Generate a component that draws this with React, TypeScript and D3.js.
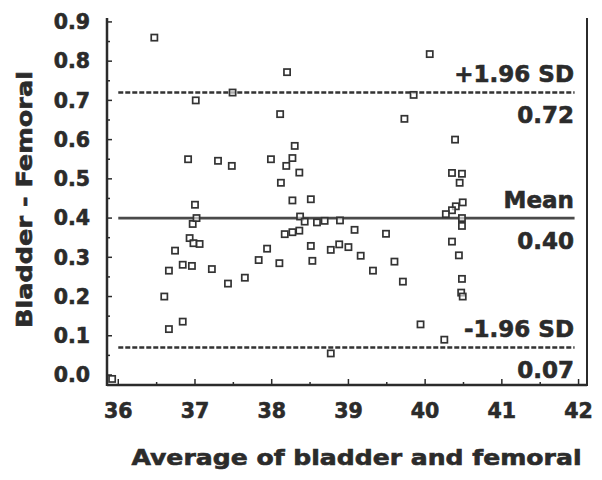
import React from "react";
import * as d3 from "d3";

// Bland-Altman data: average (x) and difference (y)
const averages: number[] = [
  36.47, 35.92, 36.60, 36.66, 36.84, 36.66, 36.74, 36.84, 36.96, 36.93,
  36.98, 37.06, 36.97, 37.02, 37.00, 36.91, 37.01, 37.22, 37.30, 37.48,
  37.49, 37.43, 37.65, 37.83, 37.94, 37.99, 38.10, 38.11, 38.20, 38.30,
  38.27, 38.19, 38.36, 38.12, 38.27, 38.51, 38.37, 38.43, 38.59, 38.69,
  38.89, 38.36, 38.27, 38.17, 38.51, 38.53, 38.77, 38.88, 39.00, 39.08,
  39.16, 39.32, 39.49, 39.60, 39.71, 39.73, 39.85, 40.06, 39.94, 38.77,
  40.25, 40.39, 40.35, 40.48, 40.45, 40.49, 40.40, 40.35, 40.27, 40.48,
  40.48, 40.35, 40.44, 40.48, 40.47, 40.49,
];
const differences: number[] = [
  0.86, -0.01, 0.20, 0.117, 0.136, 0.266, 0.317, 0.281, 0.278, 0.349,
  0.336, 0.334, 0.385, 0.40, 0.434, 0.55, 0.70, 0.27, 0.546, 0.533,
  0.72, 0.233, 0.248, 0.293, 0.322, 0.55, 0.285, 0.665, 0.772, 0.584,
  0.553, 0.533, 0.516, 0.49, 0.445, 0.448, 0.404, 0.391, 0.389, 0.393,
  0.394, 0.368, 0.364, 0.359, 0.329, 0.291, 0.319, 0.333, 0.326, 0.37,
  0.304, 0.266, 0.36, 0.289, 0.238, 0.653, 0.714, 0.818, 0.129, 0.055,
  0.09, 0.60, 0.515, 0.513, 0.49, 0.44, 0.43, 0.42, 0.41, 0.40,
  0.38, 0.34, 0.305, 0.245, 0.21, 0.20,
];

const xTickValues: number[] = [36, 37, 38, 39, 40, 41, 42];
const xMinorTicks: number[] = [36.5, 37.5, 38.5, 39.5, 40.5, 41.5];
const yTickValues: number[] = [0, 0.1, 0.2, 0.3, 0.4, 0.5, 0.6, 0.7, 0.8, 0.9];
const yMinorTicks: number[] = [0.05, 0.15, 0.25, 0.35, 0.45, 0.55, 0.65, 0.75, 0.85];

const meanDiff = 0.40;
const upperLoA = 0.72;
const lowerLoA = 0.07;
const upperLabel = "+1.96 SD";
const meanLabel = "Mean";
const lowerLabel = "-1.96 SD";

const xTitle = "Average of bladder and femoral";
const yTitle = "Bladder - Femoral";

export default function App() {
  const W = 602, H = 480;
  const left = 107, right = 587, top = 18, bottom = 385;
  const x = d3.scaleLinear().domain([35.853, 42.11]).range([left, right]);
  const y = d3.scaleLinear().domain([-0.0255, 0.91]).range([bottom, top]);
  const font = "'DejaVu Sans', Verdana, sans-serif";
  const ink = "#2b2b2b";
  const lineX0 = x(36), lineX1 = x(42) - 4;
  const labelX = 574;
  const pts = averages.map((a, i) => [a, differences[i]] as [number, number]);
  const heavy = { stroke: ink, strokeWidth: 0.6 } as const;

  return (
    <svg width={W} height={H} style={{ position: "absolute", left: 0, top: 0, background: "#fff" }}
      fontFamily={font} fontWeight="bold">
      <rect x={0} y={0} width={W} height={H} fill="#fff" />
      {/* reference lines */}
      <line x1={lineX0} x2={lineX1} y1={y(upperLoA)} y2={y(upperLoA)} stroke="#333" strokeWidth={2.5} strokeDasharray="5,2" />
      <line x1={lineX0} x2={lineX1} y1={y(lowerLoA)} y2={y(lowerLoA)} stroke="#333" strokeWidth={2.5} strokeDasharray="5,2" />
      <line x1={lineX0} x2={lineX1} y1={y(meanDiff)} y2={y(meanDiff)} stroke="#4a4a4a" strokeWidth={2.8} />

      {/* points */}
      {pts.map(([a, d], i) => (
        <rect key={i} x={x(a) - 3.1} y={y(d) - 3.1} width={6.2} height={6.2}
          fill="#fff" fillOpacity={0.6} stroke="#333" strokeWidth={1.7} />
      ))}

      {/* axes */}
      <line x1={left} x2={left} y1={top} y2={bottom + 1} stroke={ink} strokeWidth={2.5} />
      <line x1={left} x2={right} y1={bottom} y2={bottom} stroke={ink} strokeWidth={2.5} />
      <line x1={right} x2={right} y1={top} y2={bottom + 1} stroke={ink} strokeWidth={2} />

      {xTickValues.map((t) => (
        <g key={"xt" + t}>
          <line x1={x(t)} x2={x(t)} y1={bottom} y2={bottom - 6} stroke={ink} strokeWidth={1.5} />
          <text x={x(t)} y={418} textAnchor="middle" fontSize={20.5} fill={ink} {...heavy}>{t}</text>
        </g>
      ))}
      {xMinorTicks.map((t) => (
        <line key={"xm" + t} x1={x(t)} x2={x(t)} y1={bottom} y2={bottom - 3} stroke={ink} strokeWidth={1.5} />
      ))}
      {yTickValues.map((t) => (
        <g key={"yt" + t}>
          <line x1={left} x2={left + 5} y1={y(t)} y2={y(t)} stroke={ink} strokeWidth={1.5} />
          <text x={90} y={y(t) + 7.3} textAnchor="end" fontSize={20.5} fill={ink} {...heavy}>{d3.format(".1f")(t)}</text>
        </g>
      ))}
      {yMinorTicks.map((t) => (
        <line key={"ym" + t} x1={left} x2={left + 3} y1={y(t)} y2={y(t)} stroke={ink} strokeWidth={1.5} />
      ))}

      {/* line labels */}
      <g fontSize={23} fill={ink} textAnchor="end" {...heavy}>
        <text x={labelX} y={y(upperLoA) - 11}>{upperLabel}</text>
        <text x={labelX} y={y(upperLoA) + 30}>{upperLoA.toFixed(2)}</text>
        <text x={labelX} y={y(meanDiff) - 10}>{meanLabel}</text>
        <text x={labelX} y={y(meanDiff) + 31}>{meanDiff.toFixed(2)}</text>
        <text x={labelX} y={y(lowerLoA) - 11}>{lowerLabel}</text>
        <text x={labelX} y={y(lowerLoA) + 30.5}>{lowerLoA.toFixed(2)}</text>
      </g>

      {/* titles */}
      <text x={131.5} y={464.5} fontSize={21} fill={ink} {...heavy} textLength={450} lengthAdjust="spacingAndGlyphs">{xTitle}</text>
      <text transform={`translate(31.5, 328) rotate(-90)`} x={0} y={0} fontSize={21.5} fill={ink} {...heavy}
        textLength={257} lengthAdjust="spacingAndGlyphs">{yTitle}</text>
    </svg>
  );
}
